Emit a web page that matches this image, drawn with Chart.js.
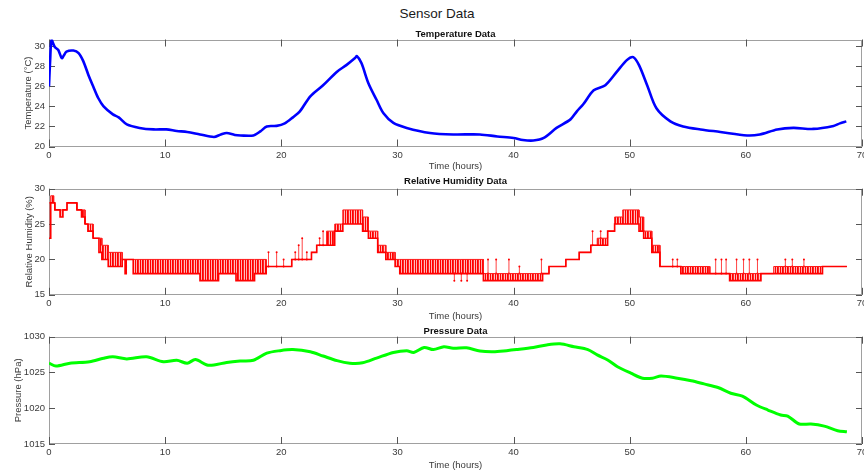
<!DOCTYPE html>
<html>
<head>
<meta charset="utf-8">
<script src="https://cdn.jsdelivr.net/npm/chart.js@4.4.1/dist/chart.umd.min.js"></script>
<style>
  html, body { margin: 0; padding: 0; background: #fff; width: 864px; height: 471px; overflow: hidden; }
  #wrap { position: relative; width: 864px; height: 471px; overflow: hidden; }
  canvas { position: absolute; left: 0; }
  #mainTitle { position: absolute; left: 437px; top: 5px; transform: translateX(-50%);
    font: 13.5px "Liberation Sans", Arial, sans-serif; color: #1a1a1a; white-space: nowrap; line-height: 17px; }
</style>
</head>
<body>
<div id="wrap">
  <div id="mainTitle">Sensor Data</div>
  <canvas id="cTemp" width="900" height="172" style="top:0px"></canvas>
  <canvas id="cHum" width="900" height="150" style="top:172px"></canvas>
  <canvas id="cPres" width="900" height="149" style="top:322px"></canvas>
</div>
<script>
// ---------------- DATA ----------------
const xTicks = [0, 10, 20, 30, 40, 50, 60, 70];

const tempHours = [0, 0.1, 0.22, 0.5, 0.8, 1.1, 1.3, 1.5, 2.1, 2.55, 2.95, 3.4, 3.8, 4.25, 4.7, 5.5, 6.0, 6.7, 7.8, 9.0,
  10.1, 11.0, 11.9, 13.0, 14.2, 14.8, 15.3, 16.0, 16.5, 17.6, 18.2, 18.75, 19.6, 20.3, 21.0, 21.6, 22.5, 23.6, 24.8, 25.6,
  26.35, 26.5, 26.9, 27.5, 28.2, 28.8, 29.65, 30.8, 32.8, 34.8, 37.1, 38.6, 40.0, 40.8, 41.7, 42.6, 43.7, 44.9, 45.45, 46.0,
  46.9, 47.9, 48.9, 49.75, 50.3, 50.8, 51.5, 52.3, 53.5, 54.6, 56.1, 57.8, 60.1, 61.2, 62.7, 64.1, 65.8, 67.55, 68.1, 68.65];
const tempValues = [26.0, 28.6, 30.6, 29.9, 29.6, 28.8, 29.1, 29.45, 29.55, 29.3, 28.5, 27.1, 26.0, 24.8, 24.0, 23.2, 22.9, 22.2, 21.85, 21.7,
  21.7, 21.55, 21.45, 21.2, 20.95, 21.2, 21.35, 21.15, 21.1, 21.1, 21.5, 22.0, 22.05, 22.3, 22.9, 23.5, 25.0, 26.1, 27.45, 28.1,
  28.8, 29.0, 28.3, 26.3, 24.65, 23.3, 22.35, 21.85, 21.35, 21.2, 21.2, 21.0, 20.85, 20.65, 20.6, 20.85, 21.85, 22.7, 23.5, 24.2,
  25.6, 26.1, 27.45, 28.6, 28.9, 28.1, 26.1, 23.8, 22.5, 22.0, 21.7, 21.45, 21.1, 21.2, 21.7, 21.85, 21.75, 22.05, 22.3, 22.5];
const tempTicks = [20, 22, 24, 26, 28, 30];

// humidity: step breakpoints, lower and upper level of the flickering reading
const humHours = [0, 0.15, 0.4, 0.5, 0.95, 1.2, 1.55, 2.4, 2.8, 3.1, 3.35, 3.8, 4.3, 4.55, 5.1, 6.3, 6.55, 6.65, 7.25,
  13.0, 14.6, 16.1, 17.7, 18.7, 20.9, 22.6, 23.05, 23.9, 24.6, 25.3, 27.0, 27.5, 28.3, 29.0, 29.8, 30.2, 35.4, 37.4,
  42.5, 43.05, 44.5, 45.65, 46.65, 47.2, 48.1, 48.7, 49.4, 50.8, 51.2, 51.9, 52.6, 54.4, 54.8, 56.9, 58.6, 61.3, 62.4, 66.6, 68.7];
const humLow = [23, 28, 28, 27, 26, 27, 28, 27, 26, 25, 24, 23, 21, 20, 19, 20, 18, 20, 18,
  17, 18, 17, 18, 19, 20, 21, 22, 22, 24, 25, 24, 23, 21, 20, 19, 18, 18, 17,
  18, 19, 20, 21, 22, 22, 24, 25, 25, 24, 23, 21, 19, 18, 18, 18, 17, 18, 18, 19, 19];
const humHigh = [28, 29, 28, 27, 27, 27, 28, 27, 27, 25, 25, 23, 23, 22, 21, 20, 20, 20, 20,
  20, 20, 20, 20, 19, 20, 21, 22, 24, 25, 27, 26, 24, 22, 21, 20, 20, 20, 18,
  18, 19, 20, 21, 22, 23, 24, 26, 27, 26, 24, 22, 19, 19, 19, 18, 18, 18, 19, 19, 19];
// isolated spikes in the humidity reading
const spikeHours = [18.9, 19.6, 20.2, 21.2, 21.5, 21.8, 22.2, 23.3, 23.6, 34.9, 35.5, 36.0, 37.8, 38.5, 39.6, 40.5, 42.4,
  46.8, 47.5, 53.7, 54.1, 57.4, 57.9, 58.3, 59.2, 59.8, 60.3, 61.0, 63.4, 64.0, 65.0];
const spikeLow = [19, 19, 19, 20, 20, 20, 20, 22, 22, 17, 17, 17, 18, 18, 18, 18, 18,
  22, 23, 19, 19, 18, 18, 18, 18, 18, 18, 18, 19, 19, 19];
const spikeHigh = [21, 21, 20, 21, 22, 23, 21, 23, 24, 18, 18, 18, 20, 20, 20, 19, 20,
  24, 24, 20, 20, 20, 20, 20, 20, 20, 20, 20, 20, 20, 20];
const humTicks = [15, 20, 25, 30];

const presHours = [0, 0.6, 1.8, 3.5, 4.7, 5.5, 6.7, 8.4, 9.85, 11.0, 11.9, 12.6, 13.6, 14.2, 15.3, 16.45, 17.6, 18.75, 19.9, 21.0,
  22.5, 23.6, 24.8, 25.9, 27.0, 28.2, 29.65, 30.8, 31.4, 32.3, 33.1, 34.0, 34.8, 35.95, 37.1, 38.25, 39.4, 40.25, 41.7, 42.85,
  44.0, 45.2, 46.4, 47.2, 48.1, 48.95, 50.1, 51.1, 51.95, 52.7, 54.1, 55.3, 56.4, 57.6, 58.7, 59.7, 60.9, 61.9, 63.0, 63.6,
  64.6, 65.6, 66.75, 67.9, 68.7];
const presValues = [1026.3, 1025.9, 1026.3, 1026.5, 1027.0, 1027.2, 1026.9, 1027.2, 1026.5, 1026.7, 1026.3, 1026.8, 1026.05, 1026.05, 1026.4, 1026.6, 1026.7, 1027.7, 1028.05, 1028.2,
  1027.9, 1027.3, 1026.65, 1026.3, 1026.35, 1027.0, 1027.8, 1028.05, 1027.8, 1028.5, 1028.2, 1028.6, 1028.4, 1028.45, 1028.0, 1027.9, 1028.05, 1028.2, 1028.5, 1028.85,
  1029.0, 1028.6, 1028.2, 1027.45, 1026.75, 1025.8, 1024.9, 1024.2, 1024.2, 1024.5, 1024.2, 1023.85, 1023.4, 1022.9, 1022.1, 1021.7, 1020.45, 1019.75, 1019.05, 1018.9,
  1017.8, 1017.8, 1017.5, 1016.85, 1016.7];
const presTicks = [1015, 1020, 1025, 1030];

// ---------------- HELPERS ----------------
const FONT = '"Liberation Sans", Arial, Helvetica, sans-serif';
const TXT = '#3a3a3a';
const pts = (xs, ys) => xs.map((x, i) => ({ x: x, y: ys[i] }));

// explicit step vertices: value holds until the next breakpoint
function stepPts(xs, ys) {
  const out = [];
  xs.forEach((x, i) => {
    if (i > 0) out.push({ x: x, y: ys[i - 1] });
    out.push({ x: x, y: ys[i] });
  });
  return out;
}

function spikePoints() {
  const out = [];
  spikeHours.forEach((t, i) => {
    out.push({ x: t, y: spikeLow[i] });
    out.push({ x: t, y: spikeHigh[i] });
    out.push({ x: t, y: null });
  });
  return out;
}

// vertical hatch texture for the flickering humidity bands
function bandPattern() {
  const c = document.createElement('canvas');
  c.width = 5; c.height = 4;
  const g = c.getContext('2d');
  const alphas = [1.0, 0.3, 1.0, 0.85, 0.25];
  alphas.forEach((a, i) => { g.fillStyle = 'rgba(255,0,0,' + a + ')'; g.fillRect(i, 0, 1, 4); });
  return g.createPattern(c, 'repeat');
}

const boxPlugin = {
  id: 'matlabBox',
  beforeDatasetsDraw(chart) {
    const { ctx, chartArea: a, scales } = chart;
    const x = scales.x, y = scales.y;
    ctx.save();
    ctx.strokeStyle = '#a0a0a0';
    ctx.lineWidth = 1;
    ctx.strokeRect(Math.round(a.left) + 0.5, Math.round(a.top) + 0.5,
      Math.round(a.right - a.left) - 1, Math.round(a.bottom - a.top) - 1);
    ctx.strokeStyle = '#555';
    ctx.beginPath();
    x.ticks.forEach(t => {
      const px = Math.round(x.getPixelForValue(t.value)) + 0.5;
      ctx.moveTo(px, a.bottom); ctx.lineTo(px, a.bottom - 7);
      ctx.moveTo(px, a.top); ctx.lineTo(px, a.top + 7);
    });
    y.ticks.forEach(t => {
      const py = Math.round(y.getPixelForValue(t.value)) + 0.5;
      ctx.moveTo(a.left, py); ctx.lineTo(a.left + 6, py);
      ctx.moveTo(a.right, py); ctx.lineTo(a.right - 6, py);
    });
    ctx.stroke();
    ctx.restore();
  }
};

function makePanel(id, o) {
  const ctx = document.getElementById(id).getContext('2d');
  return new Chart(ctx, {
    type: 'line',
    data: { datasets: o.datasets },
    plugins: [boxPlugin],
    options: {
      responsive: false,
      animation: false,
      devicePixelRatio: 1,
      layout: { padding: { left: 0, right: 38, top: 0, bottom: 0 } },
      elements: { point: { radius: 0 } },
      plugins: {
        legend: { display: false },
        tooltip: { enabled: false },
        title: {
          display: true, text: o.title, fullSize: false, color: '#111',
          font: { family: FONT, size: 9.5, weight: 'bold', lineHeight: 1 },
          padding: o.titlePad
        }
      },
      scales: {
        x: {
          type: 'linear', min: 0, max: 70,
          afterBuildTicks: s => { s.ticks = xTicks.map(v => ({ value: v })); },
          afterFit: s => { s.height = o.xHeight; s.paddingLeft = 0; },
          grid: { display: false, drawTicks: false },
          border: { display: false },
          ticks: { color: TXT, padding: 3, maxRotation: 0, font: { family: FONT, size: 9.5 },
            callback: v => String(v) },
          title: { display: true, text: 'Time (hours)', color: TXT,
            font: { family: FONT, size: 9.5 }, padding: { top: 0, bottom: 0 } }
        },
        y: {
          type: 'linear', min: o.yMin, max: o.yMax,
          afterBuildTicks: s => { s.ticks = o.yTicks.map(v => ({ value: v })); },
          afterFit: s => { s.width = 49; },
          grid: { display: false, drawTicks: false },
          border: { display: false },
          ticks: { color: TXT, padding: 4, font: { family: FONT, size: 9.5 },
            callback: v => String(v) },
          title: { display: true, text: o.yTitle, color: TXT,
            font: { family: FONT, size: 9.5 }, padding: { top: o.yTitleOffset, bottom: 0 } }
        }
      }
    }
  });
}

// ---------------- PANELS ----------------
makePanel('cTemp', {
  title: 'Temperature Data',
  titlePad: { top: 29.25, bottom: 0.75 },
  xHeight: 25.5,
  yMin: 20, yMax: 30.65, yTicks: tempTicks,
  yTitle: 'Temperature (°C)', yTitleOffset: 22.8,
  datasets: [{
    data: pts(tempHours, tempValues),
    borderColor: '#0000ff', borderWidth: 2.6, tension: 0.3, fill: false
  }]
});

makePanel('cHum', {
  title: 'Relative Humidity Data',
  titlePad: { top: 4.75, bottom: 2.45 },
  xHeight: 27.2,
  yMin: 15, yMax: 30, yTicks: humTicks,
  yTitle: 'Relative Humidity (%)', yTitleOffset: 23.2,
  datasets: [
    { data: stepPts(humHours, humLow), borderColor: '#ff0000', borderWidth: 1.6, fill: false },
    { data: stepPts(humHours, humHigh), borderColor: '#ff1a1a', borderWidth: 1.0,
      fill: '-1', backgroundColor: bandPattern() },
    { data: spikePoints(), borderColor: '#ff3030', borderWidth: 0.9, spanGaps: false, fill: false,
      pointRadius: 1, pointBackgroundColor: '#ff0000', pointBorderWidth: 0 }
  ]
});

makePanel('cPres', {
  title: 'Pressure Data',
  titlePad: { top: 4.75, bottom: 0.45 },
  xHeight: 27,
  yMin: 1015, yMax: 1030, yTicks: presTicks,
  yTitle: 'Pressure (hPa)', yTitleOffset: 12.5,
  datasets: [{
    data: pts(presHours, presValues),
    borderColor: '#00ff00', borderWidth: 3, tension: 0.3, fill: false
  }]
});
</script>
</body>
</html>
